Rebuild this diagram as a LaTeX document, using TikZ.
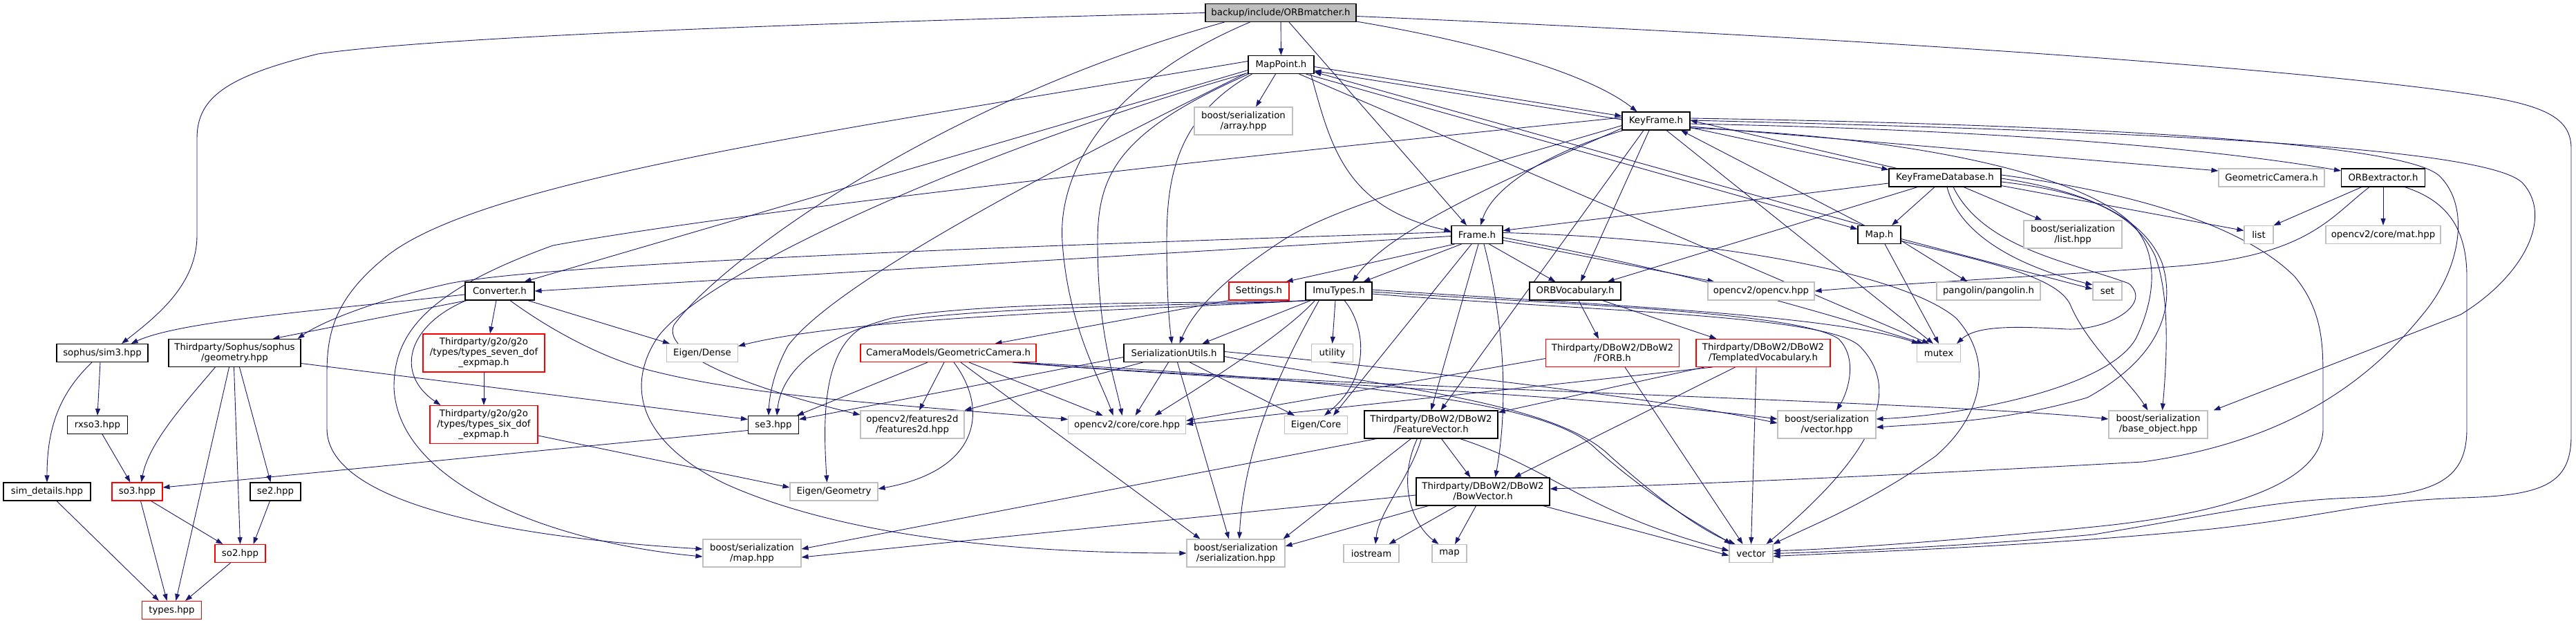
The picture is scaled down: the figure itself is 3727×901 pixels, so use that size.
\documentclass[tikz,border=0pt]{standalone}
\usepackage{fontspec}
\newfontfamily\dvs{DejaVu Sans}
\usetikzlibrary{arrows.meta,calc}
\definecolor{edgec}{HTML}{191970}
\definecolor{gry}{HTML}{BFBFBF}
\definecolor{redb}{HTML}{FF0000}
\pgfdeclarelayer{bgfill}
\pgfdeclarelayer{bg}
\pgfsetlayers{bgfill,bg,main}
\begin{document}
\begin{tikzpicture}[x=1pt,y=-1pt,
 bx/.style={draw=black,line width=1.1pt,fill=white,inner sep=0pt,align=center,font=\dvs\fontsize{13.3}{15}\selectfont,minimum height=26pt},
 ext/.style={bx,draw=gry},
 trn/.style={bx,draw=redb},
 rootbox/.style={bx,fill=gry},
 wd/.style={minimum width=#1pt},
 ht/.style={minimum height=#1pt},
 dep/.style={draw=edgec,line width=0.9pt,-{Triangle[length=10pt,width=7pt]}}]
\begin{pgfonlayer}{bgfill}
\fill[white] (0,0) rectangle (3727,901);
\end{pgfonlayer}
\useasboundingbox (0,0) rectangle (3727,901);
% nodes
\node[rootbox,wd=218] (root) at (1853,18.5) {backup/include/ORBmatcher.h};
\node[bx,wd=95] (MP) at (1853.5,93.5) {MapPoint.h};
\node[ext,wd=142,ht=40] (arr) at (1799,175) {boost/serialization\\/array.hpp};
\node[bx,wd=98] (KF) at (2396,175) {KeyFrame.h};
\node[bx,wd=162] (KFDB) at (2814,257) {KeyFrameDatabase.h};
\node[ext,wd=153] (GC) at (3286.5,257) {GeometricCamera.h};
\node[bx,wd=121] (ORBx) at (3448,257) {ORBextractor.h};
\node[bx,wd=74] (Fr) at (2137,339.5) {Frame.h};
\node[bx,wd=62] (mapH) at (2719,339.5) {Map.h};
\node[ext,wd=142,ht=40] (blist) at (2999,339) {boost/serialization\\/list.hpp};
\node[ext,wd=42] (list) at (3268,339.5) {list};
\node[ext,wd=166] (mat) at (3448,339.5) {opencv2/core/mat.hpp};
\node[bx,wd=100] (Conv) at (723,421) {Converter.h};
\node[trn,wd=87] (sett) at (1821.5,421) {Settings.h};
\node[bx,wd=96] (Imu) at (1937,421) {ImuTypes.h};
\node[bx,wd=132] (Voc) at (2279,421) {ORBVocabulary.h};
\node[ext,wd=154] (ocv) at (2548,421) {opencv2/opencv.hpp};
\node[ext,wd=150] (pang) at (2877,421) {pangolin/pangolin.h};
\node[ext,wd=42] (stdset) at (3049,421) {set};
\node[bx,wd=132] (sim3) at (148,510.5) {sophus/sim3.hpp};
\node[bx,wd=191,ht=40] (geom) at (339.5,510.5) {Thirdparty/Sophus/sophus\\/geometry.hpp};
\node[trn,wd=176,ht=55] (seven) at (700,510.5) {Thirdparty/g2o/g2o\\/types/types\_seven\_dof\\\_expmap.h};
\node[ext,wd=103] (dense) at (1016,510.5) {Eigen/Dense};
\node[trn,wd=254] (cam) at (1372,510.5) {CameraModels/GeometricCamera.h};
\node[bx,wd=145] (ser) at (1698.5,510.5) {SerializationUtils.h};
\node[ext,wd=60] (util) at (1927.6,510.5) {utility};
\node[trn,wd=193,ht=40] (forb) at (2333,510.5) {Thirdparty/DBoW2/DBoW2\\/FORB.h};
\node[trn,wd=194,ht=40] (tv) at (2551,510.5) {Thirdparty/DBoW2/DBoW2\\/TemplatedVocabulary.h};
\node[ext,wd=63] (mutex) at (2805,510.5) {mutex};
\node[bx,wd=87] (rxso3) at (141,614.5) {rxso3.hpp};
\node[trn,wd=156,ht=55] (six) at (700,614) {Thirdparty/g2o/g2o\\/types/types\_six\_dof\\\_expmap.h};
\node[bx,wd=73] (se3) at (1119,614.5) {se3.hpp};
\node[ext,wd=150,ht=40] (f2d) at (1320,614) {opencv2/features2d\\/features2d.hpp};
\node[ext,wd=170] (core) at (1630.6,614.5) {opencv2/core/core.hpp};
\node[ext,wd=91] (ecore) at (1904,614.5) {Eigen/Core};
\node[bx,wd=193,ht=40] (FV) at (2070.5,614) {Thirdparty/DBoW2/DBoW2\\/FeatureVector.h};
\node[ext,wd=142,ht=40] (bvec) at (2643,614) {boost/serialization\\/vector.hpp};
\node[ext,wd=143,ht=40] (base) at (3122.5,614) {boost/serialization\\/base\_object.hpp};
\node[bx,wd=126] (simd) at (68,711) {sim\_details.hpp};
\node[trn,wd=73] (so3) at (198.5,711) {so3.hpp};
\node[bx,wd=73] (se2) at (398.5,711) {se2.hpp};
\node[ext,wd=127] (egeo) at (1206.5,711) {Eigen/Geometry};
\node[bx,wd=193,ht=40] (bow) at (2145.5,711) {Thirdparty/DBoW2/DBoW2\\/BowVector.h};
\node[trn,wd=73] (so2) at (347.5,800.5) {so2.hpp};
\node[ext,wd=142,ht=40] (bmap) at (1088,800) {boost/serialization\\/map.hpp};
\node[ext,wd=142,ht=40] (bser) at (1788,800) {boost/serialization\\/serialization.hpp};
\node[ext,wd=80] (iostr) at (1984,800.5) {iostream};
\node[ext,wd=50] (stdmap) at (2097,800.5) {map};
\node[ext,wd=63] (vector) at (2533.5,800.5) {vector};
\node[trn,wd=86] (types) at (248.5,882.5) {types.hpp};
\begin{pgfonlayer}{bg}
% ORBmatcher
\draw[dep] (root) -- (MP);
\draw[dep] ($(root.south east)+(0,-1)$) .. controls (2180,68) and (2310,115) .. ($(KF.north west)+(22,0)$);
\draw[dep] ($(root.south)+(12,0)$) -- ($(Fr.north)+(-15,0)$);
\draw[dep] (root.west) .. controls (1100,35) and (620,55) .. (460,78) .. controls (330,110) and (285,140) .. (285,200) -- (285,340) .. controls (285,410) and (230,455) .. ($(sim3.north)+(28,0)$);
\draw[dep] ($(root.south west)+(65,0)$) .. controls (1600,120) and (1530,250) .. (1537,350) .. controls (1545,470) and (1590,545) .. ($(core.north)+(-20,0)$);
\draw[dep] ($(root.south west)+(28,0)$) .. controls (1350,150) and (1040,380) .. (975,470) .. controls (955,515) and (1100,565) .. ($(f2d.west)+(0,-14)$);
\draw[dep] ($(root.east)+(0,5)$) .. controls (2700,55) and (3350,100) .. (3600,140) .. controls (3690,155) and (3720,175) .. (3720,215) -- (3720,630) .. controls (3720,700) and (3680,717) .. (3560,720) .. controls (3420,725) and (3380,745) .. (3200,765) .. controls (2950,790) and (2700,798) .. ($(vector.east)+(0,4)$);
% MapPoint
\draw[dep] ($(MP.east)+(0,3)$) -- ($(KF.west)+(0,-7)$);
\draw[dep] ($(KF.west)+(0,-2)$) -- ($(MP.east)+(0,9)$);
\draw[dep] ($(MP.south east)+(-5,0)$) .. controls (1925,210) and (1945,300) .. ($(Fr.west)+(0,-5)$);
\draw[dep] ($(MP.south east)+(-12,0)$) -- ($(mapH.west)+(0,-8)$);
\draw[dep] ($(mapH.north west)+(8,0)$) -- ($(MP.south east)+(0,-3)$);
\draw[dep] ($(MP.west)+(0,8)$) -- ($(Conv.north east)+(-15,0)$);
\draw[dep] ($(MP.south west)+(6,0)$) .. controls (1700,170) and (1688,260) .. (1688,350) .. controls (1688,430) and (1692,470) .. ($(ser.north)+(-3,0)$);
\draw[dep] ($(MP.south west)+(1,0)$) .. controls (1620,190) and (1588,250) .. (1588,350) .. controls (1588,480) and (1612,545) .. ($(core.north)+(-7,0)$);
\draw[dep] ($(MP.south east)+(-22,0)$) -- ($(mutex.north west)+(18,0)$);
\draw[dep] ($(MP.west)+(0,12)$) .. controls (1400,220) and (1010,400) .. (950,490) .. controls (905,560) and (925,640) .. (1050,700) .. controls (1250,790) and (1550,800) .. (bser.west);
\draw[dep] ($(MP.south)+(-8,0)$) -- ($(arr.north)+(18,0)$);
\draw[dep] ($(MP.west)+(0,-5)$) .. controls (1200,190) and (700,260) .. (560,370) .. controls (485,430) and (473,480) .. (473,540) -- (473,620) .. controls (473,720) and (700,775) .. ($(bmap.west)+(0,-6)$);
\draw[dep] ($(MP.south west)+(-3,-1)$) .. controls (1450,280) and (1200,420) .. (1140,500) .. controls (1118,540) and (1113,575) .. ($(se3.north)+(-7,0)$);
% KeyFrame
\draw[dep] ($(KF.south east)+(0,-4)$) -- ($(KFDB.north west)+(0,2)$);
\draw[dep] ($(KFDB.north west)+(12,0)$) -- ($(KF.east)+(0,-1)$);
\draw[dep] ($(KF.east)+(0,8)$) -- ($(GC.west)+(0,-10)$);
\draw[dep] ($(KF.east)+(0,4)$) .. controls (2900,188) and (3200,215) .. ($(ORBx.west)+(0,-10)$);
\draw[dep] ($(KF.south west)+(2,0)$) .. controls (2240,220) and (2160,270) .. ($(Fr.north)+(5,0)$);
\draw[dep] ($(KF.south west)+(0,-3)$) .. controls (2200,250) and (2010,330) .. ($(Imu.north)+(20,0)$);
\draw[dep] ($(KF.south)+(-10,0)$) -- ($(Voc.north)+(8,0)$);
\draw[dep] ($(KF.south)+(-18,0)$) -- ($(FV.north)+(14,0)$);
\draw[dep] ($(KF.east)+(0,-4)$) .. controls (3000,180) and (3480,205) .. (3530,255) .. controls (3575,300) and (3560,390) .. (3505,455) .. controls (3420,560) and (3300,640) .. (3100,668) .. controls (2700,690) and (2400,702) .. ($(bow.east)+(0,-4)$);
\draw[dep] ($(KF.south west)+(0,-7)$) .. controls (2150,240) and (1950,290) .. (1860,345) .. controls (1790,390) and (1730,440) .. ($(ser.north)+(8,0)$);
\draw[dep] ($(KF.south)+(15,0)$) -- ($(mutex.north west)+(24,0)$);
\draw[dep] ($(KF.east)+(0,10)$) .. controls (2800,200) and (3030,260) .. (3090,330) .. controls (3130,380) and (3110,450) .. (3090,490) .. controls (3050,560) and (2850,600) .. ($(bvec.east)+(0,-8)$);
\draw[dep] ($(KF.west)+(0,-5)$) .. controls (1900,215) and (1100,300) .. (800,355) .. controls (620,420) and (570,480) .. (570,560) .. controls (575,700) and (800,785) .. ($(bmap.west)+(0,5)$);
\draw[dep] ($(KF.east)+(0,-1)$) .. controls (3100,190) and (3600,212) .. (3650,265) .. controls (3695,315) and (3650,400) .. (3560,455) -- ($(base.north east)+(8,0)$);
% KeyFrameDatabase
\draw[dep] ($(KFDB.west)+(0,8)$) -- ($(Fr.east)+(0,-6)$);
\draw[dep] ($(KFDB.south)+(-15,0)$) -- ($(mapH.north)+(18,0)$);
\draw[dep] ($(KFDB.south west)+(42,0)$) -- ($(Voc.north east)+(-20,0)$);
\draw[dep] ($(KFDB.south)+(27,0)$) -- ($(blist.north west)+(27,0)$);
\draw[dep] ($(KFDB.south east)+(0,-2)$) -- ($(list.west)+(0,-6)$);
\draw[dep] ($(KFDB.south)+(3,0)$) .. controls (2835,340) and (2920,385) .. ($(stdset.west)+(0,-9)$);
\draw[dep] ($(KFDB.south)+(12,0)$) .. controls (2870,360) and (3000,380) .. (3080,410) .. controls (3115,440) and (3050,478) .. (2990,476) .. controls (2920,472) and (2860,470) .. ($(mutex.north east)+(-6,0)$);
\draw[dep] ($(KFDB.east)+(0,6)$) .. controls (3000,275) and (3085,300) .. (3118,370) .. controls (3140,430) and (3135,520) .. ($(base.north)+(6,0)$);
\draw[dep] ($(KFDB.east)+(0,1)$) .. controls (3010,275) and (3100,310) .. (3128,380) .. controls (3150,450) and (3120,520) .. (3020,575) .. controls (2900,610) and (2800,612) .. ($(bvec.east)+(0,4)$);
\draw[dep] ($(KFDB.east)+(0,-4)$) .. controls (3100,280) and (3250,330) .. (3320,400) .. controls (3361,450) and (3361,500) .. (3361,550) -- (3361,620) .. controls (3361,690) and (3250,740) .. (3029,762) .. controls (2850,780) and (2650,795) .. ($(vector.east)+(0,-4)$);
% Map
\draw[dep] ($(mapH.north west)+(10,0)$) -- ($(KF.south)+(36,0)$);
\draw[dep] ($(mapH.south east)+(0,-5)$) -- ($(pang.north west)+(45,0)$);
\draw[dep] ($(mapH.east)+(0,6)$) -- ($(stdset.west)+(0,-3)$);
\draw[dep] ($(mapH.south)+(8,0)$) -- (mutex.north);
\draw[dep] ($(mapH.east)+(0,9)$) .. controls (2880,380) and (2975,400) .. (2995,440) .. controls (3020,500) and (3080,550) .. ($(base.north)+(-15,0)$);
% ORBextractor
\draw[dep] ($(ORBx.south west)+(30,0)$) -- (list.north east);
\draw[dep] (ORBx) -- (mat);
\draw[dep] ($(ORBx.south)+(-20,0)$) .. controls (3370,315) and (3340,370) .. (3150,385) .. controls (2950,400) and (2750,410) .. (ocv.east);
\draw[dep] ($(ORBx.south east)+(-30,0)$) .. controls (3540,290) and (3569,330) .. (3569,400) -- (3569,620) .. controls (3569,690) and (3530,717) .. (3400,720) .. controls (3280,725) and (3200,745) .. (3029,773) .. controls (2850,790) and (2650,798) .. (vector.east);
% Frame
\draw[dep] ($(Fr.south west)+(5,0)$) -- ($(sett.north east)+(-5,0)$);
\draw[dep] ($(Fr.south west)+(15,0)$) -- ($(Imu.north east)+(-13,0)$);
\draw[dep] ($(Fr.south east)+(-20,0)$) -- ($(Voc.north west)+(38,0)$);
\draw[dep] ($(Fr.east)+(0,8)$) -- ($(ocv.north west)+(10,0)$);
\draw[dep] ($(Fr.west)+(0,2)$) -- (Conv.east);
\draw[dep] ($(Fr.west)+(0,-4)$) .. controls (1500,355) and (800,380) .. (650,410) .. controls (560,430) and (470,462) .. ($(geom.north east)+(-5,0)$);
\draw[dep] ($(Fr.south)+(-8,0)$) -- ($(ecore.north)+(25,0)$);
\draw[dep] ($(Fr.south)+(2,0)$) -- (FV.north);
\draw[dep] ($(Fr.south)+(10,0)$) .. controls (2172,450) and (2185,570) .. ($(bow.north)+(18,0)$);
\draw[dep] ($(Fr.east)+(0,4)$) .. controls (2400,385) and (2600,440) .. ($(mutex.north west)+(10,0)$);
\draw[dep] ($(Fr.east)+(0,-3)$) .. controls (2500,345) and (2760,400) .. (2830,460) .. controls (2885,520) and (2870,600) .. (2800,660) .. controls (2700,730) and (2620,760) .. (vector.north east);
% ImuTypes
\draw[dep] ($(Imu.south)+(-5,0)$) -- (util.north);
\draw[dep] ($(Imu.south)+(8,0)$) .. controls (1975,470) and (1985,545) .. ($(ecore.north)+(12,0)$);
\draw[dep] ($(Imu.south west)+(1,0)$) .. controls (1700,447) and (1250,455) .. ($(dense.east)+(0,-10)$);
\draw[dep] ($(Imu.south west)+(3,0)$) .. controls (1800,440) and (1450,432) .. (1290,460) .. controls (1180,490) and (1130,540) .. ($(se3.north)+(5,0)$);
\draw[dep] ($(Imu.south west)+(5,0)$) .. controls (1780,442) and (1360,440) .. (1245,475) .. controls (1192,510) and (1190,600) .. ($(egeo.north)+(-10,0)$);
\draw[dep] ($(Imu.south west)+(14,0)$) .. controls (1870,470) and (1800,520) .. ($(core.north)+(40,0)$);
\draw[dep] ($(Imu.south west)+(8,0)$) -- ($(ser.north east)+(-32,0)$);
\draw[dep] ($(Imu.south west)+(20,0)$) .. controls (1860,520) and (1800,640) .. ($(bser.north)+(5,0)$);
\draw[dep] ($(Imu.east)+(0,1)$) .. controls (2250,440) and (2600,450) .. (2660,490) .. controls (2690,520) and (2672,570) .. ($(bvec.north)+(14,0)$);
\draw[dep] ($(Imu.east)+(0,-2)$) .. controls (2300,440) and (2650,455) .. ($(mutex.north west)+(3,0)$);
\draw[dep] ($(Imu.east)+(0,4)$) .. controls (2300,450) and (2640,455) .. (2690,500) .. controls (2750,560) and (2720,650) .. ($(vector.north)+(22,0)$);
% Settings
\draw[dep] (sett.south west) -- ($(cam.north east)+(-60,0)$);
% Converter
\draw[dep] ($(Conv.west)+(0,5)$) .. controls (450,450) and (260,465) .. ($(sim3.north east)+(-25,0)$);
\draw[dep] ($(Conv.south west)+(3,0)$) -- ($(geom.north)+(55,0)$);
\draw[dep] ($(Conv.south)+(-5,0)$) -- ($(seven.north)+(9,0)$);
\draw[dep] ($(Conv.south west)+(2,0)$) .. controls (590,470) and (570,540) .. ($(six.north west)+(16,0)$);
\draw[dep] ($(Conv.south east)+(-10,0)$) -- ($(dense.north west)+(5,0)$);
\draw[dep] ($(Conv.south)+(15,0)$) .. controls (800,480) and (880,522) .. (950,538) .. controls (1100,575) and (1300,585) .. ($(core.west)+(0,-8)$);
% CameraModels
\draw[dep] ($(cam.south)+(-30,0)$) -- ($(se3.north east)+(-3,0)$);
\draw[dep] ($(cam.south)+(-6,0)$) -- ($(f2d.north)+(10,0)$);
\draw[dep] ($(cam.south)+(8,0)$) .. controls (1430,590) and (1420,680) .. ($(egeo.east)+(0,-4)$);
\draw[dep] ($(cam.south)+(30,0)$) -- ($(core.north)+(-35,0)$);
\draw[dep] ($(cam.south)+(18,0)$) -- ($(bser.north west)+(20,0)$);
\draw[dep] ($(cam.south east)+(-35,0)$) .. controls (1700,545) and (2300,570) .. ($(bvec.west)+(0,-8)$);
\draw[dep] ($(cam.south east)+(-30,0)$) .. controls (1900,560) and (2800,580) .. ($(base.west)+(0,-8)$);
\draw[dep] ($(cam.south east)+(-25,0)$) .. controls (2050,555) and (2250,590) .. (2310,650) .. controls (2400,730) and (2480,770) .. ($(vector.north west)+(3,0)$);
% SerializationUtils
\draw[dep] ($(ser.west)+(0,6)$) -- ($(se3.east)+(0,-8)$);
\draw[dep] ($(ser.south west)+(28,0)$) -- (f2d.north east);
\draw[dep] ($(ser.south)+(-8,0)$) -- ($(core.north)+(12,0)$);
\draw[dep] ($(ser.south east)+(-50,0)$) -- ($(ecore.north west)+(15,0)$);
\draw[dep] ($(ser.south)+(5,0)$) -- ($(bser.north)+(-10,0)$);
\draw[dep] ($(ser.east)+(0,5)$) .. controls (2000,560) and (2250,580) .. (2330,660) .. controls (2420,740) and (2470,770) .. ($(vector.north west)+(9,0)$);
\draw[dep] ($(ser.east)+(0,-2)$) .. controls (2000,530) and (2400,575) .. ($(bvec.west)+(0,-2)$);
% DBoW2
\draw[dep] ($(forb.west)+(0,8)$) -- ($(core.east)+(0,-6)$);
\draw[dep] ($(forb.south)+(18,0)$) -- ($(vector.north)+(-12,0)$);
\draw[dep] ($(tv.south west)+(24,0)$) -- ($(core.east)+(0,-1)$);
\draw[dep] ($(tv.south west)+(12,0)$) -- ($(FV.north east)+(0,3)$);
\draw[dep] ($(tv.south west)+(57,0)$) -- ($(bow.north east)+(-52,0)$);
\draw[dep] ($(tv.south)+(-10,0)$) -- (vector.north);
\draw[dep] ($(Voc.south)+(5,0)$) -- ($(forb.north)+(-20,0)$);
\draw[dep] ($(Voc.south east)+(-27,0)$) -- ($(tv.north west)+(30,0)$);
\draw[dep] ($(FV.south)+(15,0)$) -- ($(bow.north)+(-18,0)$);
\draw[dep] ($(FV.south west)+(18,0)$) -- ($(bmap.east)+(0,-6)$);
\draw[dep] ($(FV.south west)+(68,0)$) -- ($(bser.north east)+(-3,0)$);
\draw[dep] ($(FV.south)+(-14,0)$) .. controls (2040,690) and (1995,740) .. ($(iostr.north)+(6,0)$);
\draw[dep] ($(FV.south)+(-20,0)$) .. controls (2020,700) and (2045,760) .. ($(stdmap.north west)+(10,0)$);
\draw[dep] ($(FV.south east)+(-55,0)$) .. controls (2250,680) and (2290,740) .. ($(vector.west)+(0,-4)$);
\draw[dep] ($(bow.west)+(0,5)$) -- ($(bmap.east)+(0,6)$);
\draw[dep] ($(bow.south west)+(18,0)$) -- ($(bser.east)+(0,-10)$);
\draw[dep] ($(bow.south west)+(59,0)$) -- ($(iostr.north east)+(-15,0)$);
\draw[dep] ($(bow.south)+(-10,0)$) -- ($(stdmap.north)+(8,0)$);
\draw[dep] ($(bow.south east)+(-10,0)$) -- ($(vector.west)+(0,3)$);
% Sophus / g2o
\draw[dep] ($(sim3.south)+(-3,0)$) -- (rxso3.north);
\draw[dep] ($(sim3.south)+(-15,0)$) .. controls (85,570) and (68,620) .. (simd.north);
\draw[dep] ($(rxso3.south)+(7,0)$) -- ($(so3.north)+(-10,0)$);
\draw[dep] ($(geom.south west)+(68,0)$) .. controls (270,580) and (215,640) .. ($(so3.north)+(6,0)$);
\draw[dep] ($(geom.south)+(-8,0)$) -- ($(types.north)+(6,0)$);
\draw[dep] ($(geom.south)+(-1,0)$) -- (so2.north);
\draw[dep] ($(geom.south)+(7,0)$) -- ($(se2.north)+(-7,0)$);
\draw[dep] ($(geom.east)+(0,15)$) -- ($(se3.west)+(0,-8)$);
\draw[dep] ($(so3.south)+(5,0)$) -- ($(types.north)+(-7,0)$);
\draw[dep] ($(so3.south east)+(-17,0)$) -- ($(so2.north west)+(12,0)$);
\draw[dep] ($(se2.south)+(-8,0)$) -- ($(so2.north east)+(-18,0)$);
\draw[dep] ($(so2.south)+(-14,0)$) -- ($(types.north east)+(-24,0)$);
\draw[dep] ($(simd.south)+(14,0)$) -- ($(types.north west)+(25,0)$);
\draw[dep] ($(se3.west)+(0,8)$) -- ($(so3.east)+(0,-6)$);
\draw[dep] (seven) -- (six);
\draw[dep] ($(six.east)+(0,16)$) -- ($(egeo.west)+(0,-6)$);
\end{pgfonlayer}
\end{tikzpicture}
\end{document}
